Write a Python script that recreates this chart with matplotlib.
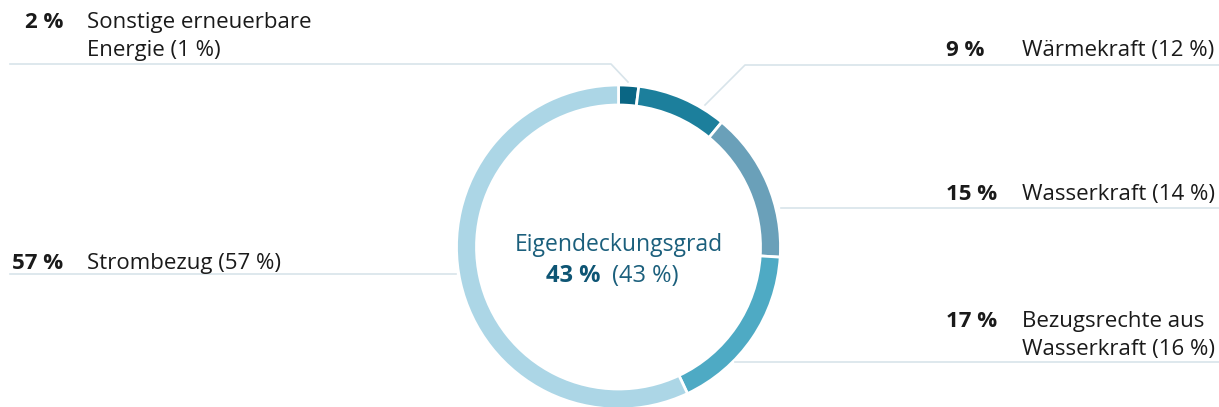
import matplotlib.pyplot as plt

# Anteile 2023 (Vorjahr in Klammern), im Uhrzeigersinn ab 12 Uhr
labels = [["Sonstige erneuerbare", "Energie"], ["Wärmekraft"], ["Wasserkraft"],
          ["Bezugsrechte aus", "Wasserkraft"], ["Strombezug"]]
values = [2, 9, 15, 17, 57]
prev = [1, 12, 14, 16, 57]
colors = ["#0a6684", "#1c7f9c", "#6aa0b9", "#4eaac4", "#acd6e6"]
self_share, self_share_prev = 43, 43

plt.rcParams['font.family'] = ['Open Sans', 'DejaVu Sans']
W, H = 1219, 407
fig = plt.figure(figsize=(W / 100, H / 100), dpi=100)
ax = fig.add_axes([0, 0, 1, 1])

cx, cy, r = 618.5, H - 247, 162
ax.pie(values, colors=colors, startangle=90, counterclock=False,
       radius=r, center=(cx, cy),
       wedgeprops=dict(width=20, edgecolor="white", linewidth=2))
ax.set_xlim(0, W)
ax.set_ylim(0, H)
ax.set_aspect("equal")
ax.axis("off")

def y(v):
    return H - v

line_col = "#d8e4ea"
fs = 16
txt = "#1a1a1a"

# leader lines
ax.plot([10, 611, 628], [y(64), y(64), y(82)], color=line_col, lw=1.2)
ax.plot([705, 745, W], [y(105), y(65), y(65)], color=line_col, lw=1.2)
ax.plot([781, W], [y(208), y(208)], color=line_col, lw=1.2)
ax.plot([735, W], [y(362), y(362)], color=line_col, lw=1.2)
ax.plot([10, 456], [y(274), y(274)], color=line_col, lw=1.2)

# label positions (x of value, y of first text line, side)
pos = [(63, 20, "L"), (946, 48, "R"), (946, 192, "R"), (946, 319, "R"), (63, 261, "L")]
for (px, py, side), lab, v, p in zip(pos, labels, values, prev):
    ha = "right" if side == "L" else "left"
    tx = 87 if side == "L" else 1022
    ax.text(px, y(py), f"{v} %", ha=ha, va="center_baseline", fontsize=fs,
            fontweight="bold", color=txt)
    lines = lab[:-1] + [f"{lab[-1]} ({p} %)"]
    for i, s in enumerate(lines):
        ax.text(tx, y(py + 28 * i), s, ha="left", va="center_baseline",
                fontsize=fs, color=txt)

# center
ax.text(cx, y(242), "Eigendeckungsgrad", ha="center", va="center_baseline",
        fontsize=16.5, color="#1b5f7c")
ax.text(cx - 18, y(273), f"{self_share} %", ha="right", va="center_baseline",
        fontsize=17, fontweight="bold", color="#0e5574")
ax.text(cx - 7, y(273), f"({self_share_prev} %)", ha="left", va="center_baseline",
        fontsize=17, color="#1b5f7c")

fig.savefig("out.png", dpi=100)
